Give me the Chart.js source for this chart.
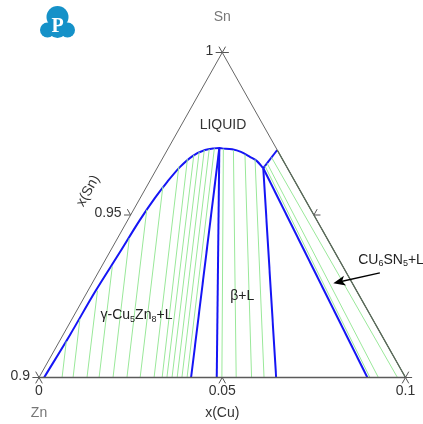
<!DOCTYPE html>
<html lang="en">
<head>
  <meta charset="UTF-8" />
  <title>Sn-rich corner, Sn-Zn-Cu</title>
  <script src="https://cdn.jsdelivr.net/npm/chart.js"></script>
  <style>
    html, body { margin: 0; padding: 0; background: #fff; }
    canvas { display: block; }
  </style>
</head>
<body>
  <canvas id="phase" width="423" height="424"></canvas>

  <script>
    // every point is a composition [x(Cu), x(Sn)], x(Zn) = 1 - x(Cu) - x(Sn)
    const liquidus = [
      [0.0014, 0.9000], [0.0019, 0.9131], [0.0021, 0.9263], [0.0028, 0.9386],
      [0.0033, 0.9485], [0.0040, 0.9552], [0.0049, 0.9602], [0.0061, 0.9648],
      [0.0079, 0.9682], [0.0103, 0.9700], [0.0125, 0.9705], [0.0139, 0.9706],
      [0.0147, 0.9705], [0.0176, 0.9702], [0.0204, 0.9694], [0.0236, 0.9679],
      [0.0263, 0.9665], [0.0290, 0.9644]
    ];
    const gammaEdge = [[0.0139, 0.9706], [0.0415, 0.9]];
    const betaLeft = [[0.0139, 0.9706], [0.0485, 0.9]];
    const betaRight = [[0.0290, 0.9644], [0.0647, 0.9]];
    const peritectic = [[0.0290, 0.9644], [0.0300, 0.9700]];
    const cu6sn5Liq = [[0.0290, 0.9644], [0.0896, 0.9]];
    const binaryEdge = [[0.0300, 0.9700], [0.1, 0.9]];

    const gammaTies = [
      [[0.0019, 0.9111], [0.0063, 0.9]],
      [[0.0022, 0.9179], [0.0093, 0.9]],
      [[0.0026, 0.9267], [0.0131, 0.9]],
      [[0.0029, 0.9342], [0.0164, 0.9]],
      [[0.0032, 0.9429], [0.0202, 0.9]],
      [[0.0036, 0.9516], [0.0240, 0.9]],
      [[0.0044, 0.9588], [0.0276, 0.9]],
      [[0.0057, 0.9649], [0.0314, 0.9]],
      [[0.0069, 0.9672], [0.0336, 0.9]],
      [[0.0080, 0.9685], [0.0349, 0.9]],
      [[0.0090, 0.9694], [0.0363, 0.9]],
      [[0.0101, 0.9700], [0.0377, 0.9]],
      [[0.0113, 0.9703], [0.0390, 0.9]],
      [[0.0126, 0.9705], [0.0404, 0.9]]
    ];
    const betaTies = [
      [[0.0151, 0.9704], [0.0499, 0.9]],
      [[0.0181, 0.9699], [0.0538, 0.9]],
      [[0.0219, 0.9686], [0.0580, 0.9]],
      [[0.0254, 0.9671], [0.0614, 0.9]]
    ];
    const cu6sn5Ties = [
      [[0.0291, 0.9651], [0.0903, 0.9]],
      [[0.0293, 0.9659], [0.0926, 0.9]],
      [[0.0296, 0.9677], [0.0978, 0.9]]
    ];

    const cuTicks = [0, 0.05, 0.1];
    const cuTickLabels = ['0', '0.05', '0.1'];
    const snTicks = [0.9, 0.95, 1];
    const snTickLabels = ['0.9', '0.95', '1'];

    const FONT = '"Liberation Sans", Arial, sans-serif';
    const TICK = 0.0018;

    // ternary -> cartesian (x axis runs along the x(Sn) = 0.9 edge)
    const toXY = ([cu, sn]) => ({ x: cu + (sn - 0.9) / 2, y: sn });

    const seg = (pts, color, width, smooth) => ({
      data: pts.map(toXY),
      showLine: true,
      borderColor: color,
      borderWidth: width,
      pointRadius: 0,
      cubicInterpolationMode: smooth ? 'monotone' : 'default',
      tension: smooth ? 0.4 : 0,
      clip: false
    });

    const datasets = [];
    // frame
    datasets.push(seg([[0, 0.9], [0, 1], [0.1, 0.9]], '#666', 1));
    datasets.push(seg([[0, 0.9], [0.1, 0.9]], '#5a5a5a', 1.7));
    // tick marks
    cuTicks.forEach(c => {
      datasets.push(seg([[c, 0.9], [c, 0.9 - TICK]], '#555', 1));
      datasets.push(seg([[c, 0.9], [c + TICK, 0.9 - TICK]], '#555', 1));
    });
    snTicks.forEach(s => {
      datasets.push(seg([[0, s], [-TICK, s]], '#555', 1));
      datasets.push(seg([[0, s], [-TICK, s + TICK]], '#555', 1));
      const c = 1 - s;
      datasets.push(seg([[c, s], [c + TICK, s]], '#555', 1));
      datasets.push(seg([[c, s], [c, s + TICK]], '#555', 1));
    });
    // tie lines
    [gammaTies, betaTies, cu6sn5Ties].forEach(group =>
      group.forEach(t => datasets.push(seg(t, '#9ae89a', 1))));
    datasets.push(seg(binaryEdge, '#2f5f2f', 1.3));
    // phase boundaries
    datasets.push(seg(liquidus, '#1515f5', 2, true));
    [gammaEdge, betaLeft, betaRight, peritectic, cu6sn5Liq].forEach(b =>
      datasets.push(seg(b, '#1515f5', 2)));

    function rich(ctx, parts, x, y, align) {
      const big = '14px ' + FONT, small = '9px ' + FONT;
      let w = 0;
      parts.forEach(([t, sub]) => { ctx.font = sub ? small : big; w += ctx.measureText(t).width; });
      let cx = align === 'left' ? x : x - w / 2;
      ctx.textAlign = 'left';
      ctx.textBaseline = 'middle';
      parts.forEach(([t, sub]) => {
        ctx.font = sub ? small : big;
        ctx.fillText(t, cx, sub ? y + 4 : y);
        cx += ctx.measureText(t).width;
      });
    }

    const labels = {
      id: 'labels',
      afterDraw(chart) {
        const { ctx, scales: { x, y } } = chart;
        const P = (cu, sn) => { const p = toXY([cu, sn]); return [x.getPixelForValue(p.x), y.getPixelForValue(p.y)]; };
        ctx.save();
        ctx.fillStyle = '#333';
        ctx.font = '14px ' + FONT;

        // tick labels
        ctx.textAlign = 'right';
        ctx.textBaseline = 'middle';
        snTicks.forEach((s, i) => { const [px, py] = P(0, s); ctx.fillText(snTickLabels[i], px - 9, py - 1.5); });
        ctx.textAlign = 'center';
        cuTicks.forEach((c, i) => { const [px, py] = P(c, 0.9); ctx.fillText(cuTickLabels[i], px, py + 13.5); });

        // axis titles
        const [mx, my] = P(0.05, 0.9);
        ctx.fillText('x(Cu)', mx, my + 35.5);
        ctx.fillStyle = '#777';
        const [zx, zy] = P(0, 0.9);
        ctx.fillText('Zn', zx, zy + 35.5);
        const [tx, ty] = P(0, 1);
        ctx.fillText('Sn', tx, ty - 35.5);
        ctx.fillStyle = '#333';
        const ang = Math.atan2(ty - zy, tx - zx);
        const [sx, sy] = P(-0.0153, 0.9574);
        ctx.save();
        ctx.translate(sx, sy);
        ctx.rotate(ang);
        ctx.fillText('x(Sn)', 0, 0);
        ctx.restore();

        // region labels
        const [lx, ly] = P(0.0113, 0.9778);
        ctx.fillText('LIQUID', lx, ly);
        ctx.fillStyle = '#222';
        let [gx, gy] = P(0.0170, 0.9192);
        rich(ctx, [['\u03b3-Cu', 0], ['5', 1], ['Zn', 0], ['8', 1], ['+L', 0]], gx, gy, 'center');
        [gx, gy] = P(0.0430, 0.9249);
        rich(ctx, [['\u03b2+L', 0]], gx, gy, 'center');
        [gx, gy] = P(0.0690, 0.9362);
        rich(ctx, [['CU', 0], ['6', 1], ['SN', 0], ['5', 1], ['+L', 0]], gx, gy, 'left');

        // arrow to the Cu6Sn5 + L field
        const [ax0, ay0] = P(0.0769, 0.9322);
        const [ax1, ay1] = P(0.0658, 0.9290);
        const a = Math.atan2(ay1 - ay0, ax1 - ax0);
        ctx.strokeStyle = '#000';
        ctx.fillStyle = '#000';
        ctx.lineWidth = 1.3;
        ctx.beginPath();
        ctx.moveTo(ax0, ay0);
        ctx.lineTo(ax1 - 8 * Math.cos(a), ay1 - 8 * Math.sin(a));
        ctx.stroke();
        ctx.beginPath();
        ctx.moveTo(ax1, ay1);
        ctx.lineTo(ax1 - 12 * Math.cos(a) + 5 * Math.sin(a), ay1 - 12 * Math.sin(a) - 5 * Math.cos(a));
        ctx.lineTo(ax1 - 9 * Math.cos(a), ay1 - 9 * Math.sin(a));
        ctx.lineTo(ax1 - 12 * Math.cos(a) - 5 * Math.sin(a), ay1 - 12 * Math.sin(a) + 5 * Math.cos(a));
        ctx.closePath();
        ctx.fill();

        // logo
        ctx.fillStyle = '#1591c8';
        [[57.5, 17, 11], [47.5, 30, 7.5], [67.5, 30, 7.5], [57.5, 28, 10]].forEach(([cx, cy, r]) => {
          ctx.beginPath();
          ctx.arc(cx, cy, r, 0, Math.PI * 2);
          ctx.fill();
        });
        ctx.fillStyle = '#fff';
        ctx.font = 'bold 20px "Liberation Serif", serif';
        ctx.textAlign = 'center';
        ctx.textBaseline = 'middle';
        ctx.fillText('P', 57.5, 27);
        ctx.restore();
      }
    };

    new Chart(document.getElementById('phase'), {
      type: 'scatter',
      data: { datasets },
      options: {
        responsive: false,
        animation: false,
        events: [],
        layout: { padding: { left: 39, right: 17.5, top: 52.5, bottom: 46.5 } },
        scales: {
          x: { type: 'linear', min: 0, max: 0.1, display: false },
          y: { type: 'linear', min: 0.9, max: 1.0, display: false }
        },
        plugins: { legend: { display: false }, tooltip: { enabled: false } }
      },
      plugins: [labels]
    });
  </script>
</body>
</html>
